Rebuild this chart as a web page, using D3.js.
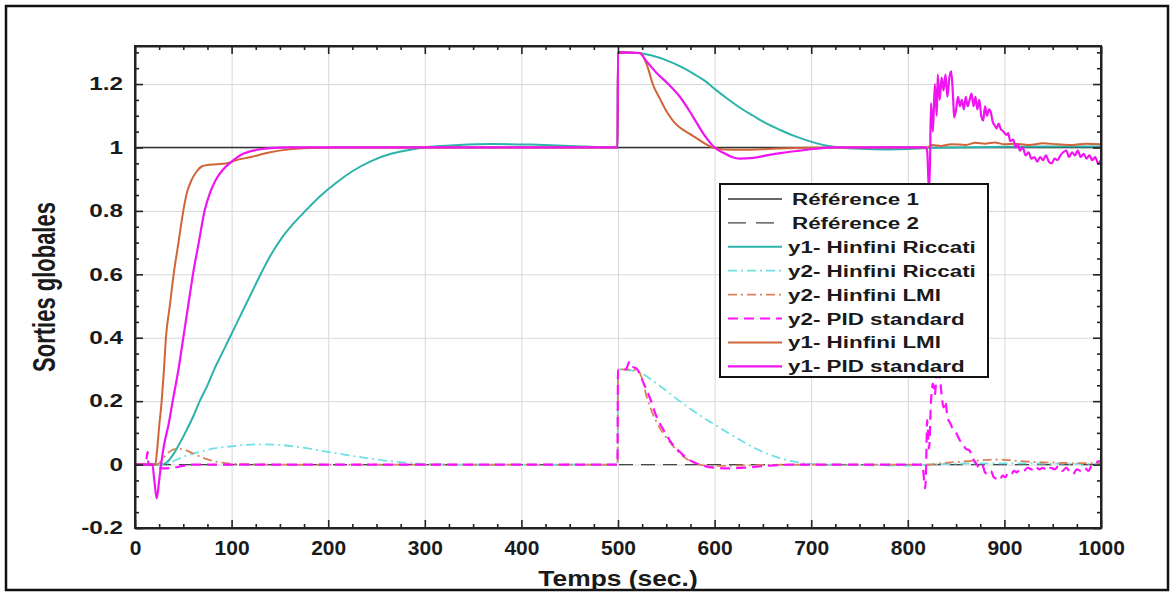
<!DOCTYPE html>
<html>
<head>
<meta charset="utf-8">
<script src="https://cdn.jsdelivr.net/npm/d3@7/dist/d3.min.js"></script>
<style>
  html, body { margin: 0; padding: 0; background: #fff; }
  svg text { font-family: "Liberation Sans", Arial, Helvetica, sans-serif; font-weight: bold; fill: #1a1a1a; }
</style>
</head>
<body>
<svg id="chart" width="1174" height="593"></svg>
<script>
// ---------------- DATA ----------------
const xTicks = [0, 100, 200, 300, 400, 500, 600, 700, 800, 900, 1000];
const xTickLabels = ["0", "100", "200", "300", "400", "500", "600", "700", "800", "900", "1000"];
const yTicks = [-0.2, 0, 0.2, 0.4, 0.6, 0.8, 1, 1.2];
const yTickLabels = ["-0.2", "0", "0.2", "0.4", "0.6", "0.8", "1", "1.2"];
const xLabel = "Temps (sec.)";
const yLabel = "Sorties globales";

const seriesNames = ["Référence 1", "Référence 2", "y1- Hinfini Riccati", "y2- Hinfini Riccati",
                     "y2- Hinfini LMI", "y2- PID standard", "y1- Hinfini LMI", "y1- PID standard"];

// Référence 1
const tRef1 = [0, 1000];
const vRef1 = [1, 1];
// Référence 2
const tRef2 = [0, 1000];
const vRef2 = [0, 0];

// y1 - Hinfini Riccati
const tRicY1 = [0, 28, 32, 38, 45, 52, 60, 67, 75, 82, 90, 98, 106, 114, 122, 130, 140, 152, 164, 178, 193, 208, 225, 245, 265, 285, 305, 335, 370, 410, 450, 499.5,
  500, 520, 535, 551, 565, 578, 590, 602, 614, 626, 640, 654, 668, 681, 694, 706, 718, 730, 750, 780, 800, 820, 850, 900, 950, 1000];
const vRicY1 = [0, 0, 0.005, 0.025, 0.06, 0.1, 0.15, 0.2, 0.25, 0.3, 0.35, 0.4, 0.45, 0.5, 0.55, 0.6, 0.658, 0.715, 0.76, 0.805, 0.85, 0.888, 0.925, 0.958, 0.98, 0.993, 1.002, 1.008, 1.011, 1.009, 1.005, 1.0,
  1.3, 1.298, 1.29, 1.274, 1.255, 1.233, 1.21, 1.18, 1.152, 1.126, 1.1, 1.075, 1.055, 1.038, 1.024, 1.013, 1.005, 1.0, 0.996, 0.994, 0.995, 0.998, 1.0, 1.002, 1.003, 1.003];

// y2 - Hinfini Riccati
const tRicY2 = [0, 28, 35, 45, 55, 67, 80, 98, 115, 130, 150, 170, 190, 210, 230, 250, 270, 290, 310, 340, 499.5,
  500, 520, 540, 564, 580, 598, 615, 633, 650, 668, 685, 700, 720, 800, 820, 850, 900, 950, 1000];
const vRicY2 = [0, 0, 0.005, 0.018, 0.03, 0.04, 0.05, 0.057, 0.062, 0.064, 0.062, 0.055, 0.045, 0.035, 0.025, 0.016, 0.009, 0.004, 0.001, 0, 0,
  0.3, 0.293, 0.255, 0.2, 0.165, 0.13, 0.098, 0.066, 0.04, 0.02, 0.008, 0.002, 0, -0.003, 0, 0.003, 0.004, 0.003, 0.002];

// y2 - Hinfini LMI
const tLmiY2 = [0, 22, 27, 32, 38, 45, 52, 60, 70, 80, 90, 100, 120, 150, 499.5,
  500, 520, 525, 530, 536, 543, 550, 557, 564, 572, 581, 590, 610, 640, 680, 820, 830, 850, 870, 890, 900, 920, 950, 1000];
const vLmiY2 = [0, 0, 0.01, 0.03, 0.045, 0.05, 0.046, 0.035, 0.022, 0.012, 0.006, 0.003, 0.001, 0, 0,
  0.3, 0.298, 0.27, 0.21, 0.16, 0.117, 0.085, 0.058, 0.035, 0.016, 0.003, -0.003, -0.004, -0.002, 0, 0, 0.003, 0.008, 0.012, 0.016, 0.015, 0.01, 0.006, 0.004];

// y2 - PID standard
const tPidY2 = [0, 11, 13, 14, 20, 25, 30, 40, 50, 60, 499.5,
  500, 508, 512, 515, 520, 526, 533, 540, 547, 555, 564, 572, 581, 590, 600, 615, 630, 650, 680, 815,
  818, 819, 820, 822, 824, 826, 828, 830, 833, 835, 837, 839, 841, 844, 847, 850, 854, 857, 860, 864, 867, 871, 874, 877,
  880, 883, 886, 889, 892, 895, 898, 901, 904, 907, 910, 913, 916, 920, 924, 928, 932, 936, 940, 944, 948, 952, 956, 960,
  964, 968, 971, 975, 979, 983, 987, 990, 994, 997, 1000];
const vPidY2 = [0, 0, 0.04, 0, 0, -0.01, -0.012, -0.01, -0.004, 0, 0,
  0.3, 0.3, 0.325, 0.31, 0.3, 0.26, 0.21, 0.15, 0.11, 0.07, 0.04, 0.018, 0.004, -0.005, -0.01, -0.012, -0.01, -0.005, 0, 0,
  -0.075, 0, 0.14, 0.05, 0.2, 0.255, 0.22, 0.285, 0.275, 0.22, 0.18, 0.2, 0.15, 0.13, 0.11, 0.1, 0.076, 0.065, 0.05, 0.044, 0.02, 0.003, -0.01, 0.0,
  -0.025, -0.03, -0.02, -0.04, -0.045, -0.05, -0.035, -0.04, -0.025, -0.03, -0.02, -0.025, -0.015, -0.02, -0.01, -0.015, -0.005, -0.015, -0.01, -0.02, -0.01, -0.015, -0.005, -0.02,
  -0.01, -0.025, -0.03, -0.015, -0.02, -0.01, -0.02, -0.005, 0.0, 0.01, 0.01];

// y1 - Hinfini LMI
const tLmiY1 = [0, 21, 23, 25, 27.6, 30, 32, 36, 40, 45, 50, 54, 59, 64, 69, 75, 85, 95, 105, 120, 140, 160, 190, 230, 499.5,
  500, 523, 530, 536, 544, 551, 558, 564, 573, 582, 590, 598, 610, 630, 660, 700, 760, 820,
  825, 835, 845, 860, 870, 880, 890, 900, 910, 925, 940, 955, 970, 985, 1000];
const vLmiY1 = [0, 0, 0.05, 0.12, 0.2, 0.3, 0.4, 0.5, 0.6, 0.7, 0.8, 0.86, 0.9, 0.925, 0.94, 0.945, 0.947, 0.95, 0.96, 0.97, 0.985, 0.994, 0.999, 1.0, 1.0,
  1.3, 1.298, 1.26, 1.2, 1.15, 1.11, 1.08, 1.063, 1.045, 1.028, 1.012, 1.0, 0.994, 0.993, 0.996, 0.999, 1.0, 1.0,
  1.008, 1.005, 1.01, 1.008, 1.015, 1.012, 1.016, 1.01, 1.012, 1.008, 1.013, 1.01, 1.008, 1.012, 1.01];

// y1 - PID standard
const tPidY1 = [0, 18, 20, 22.5, 25, 27, 30, 35, 39, 45, 50, 55, 60, 66, 72, 78, 84, 91, 98, 105, 112, 125, 140, 160, 499.5,
  500, 522, 530, 540, 552, 564, 574, 581, 588, 594, 600, 610, 618, 626, 640, 654, 670, 688, 705, 723, 760, 818,
  820, 822, 823, 824, 826, 828, 830, 831, 833, 835, 837, 839, 841, 843, 845, 847, 848, 850, 852, 854, 856, 858, 860,
  862, 864, 866, 868, 870, 872, 874, 876, 878, 880, 882, 884, 886, 888, 890, 892, 894, 896, 899, 902, 904, 906, 909,
  912, 914, 916, 919, 922, 925, 928, 931, 934, 937, 940, 943, 946, 949, 952, 955, 958, 961, 964, 967, 970, 973, 976,
  979, 982, 985, 988, 991, 994, 997, 1000];
const vPidY1 = [0, 0, -0.05, -0.107, -0.05, 0, 0.06, 0.13, 0.2, 0.3, 0.4, 0.5, 0.6, 0.7, 0.8, 0.86, 0.9, 0.93, 0.95, 0.967, 0.98, 0.992, 0.998, 1.0, 1.0,
  1.3, 1.298, 1.27, 1.235, 1.2, 1.16, 1.115, 1.08, 1.045, 1.02, 1.0, 0.982, 0.97, 0.965, 0.967, 0.975, 0.983, 0.99, 0.996, 1.0, 1.0, 1.0,
  0.99, 0.86, 0.95, 1.14, 1.05, 1.2, 1.1, 1.23, 1.15, 1.22, 1.18, 1.23, 1.16, 1.22, 1.24, 1.15, 1.095, 1.12, 1.16, 1.13, 1.15, 1.12, 1.16,
  1.13, 1.15, 1.17, 1.13, 1.16, 1.12, 1.15, 1.1, 1.085, 1.13, 1.1, 1.12, 1.11, 1.08, 1.07, 1.06, 1.075, 1.06, 1.05, 1.04, 1.045, 1.02, 1.025,
  1.0, 1.01, 0.99, 1.0, 0.975, 0.985, 0.965, 0.97, 0.955, 0.97, 0.96, 0.975, 0.955, 0.95, 0.965, 0.96, 0.975, 0.985, 0.99, 0.97, 0.985, 0.975, 0.99,
  0.97, 0.98, 0.965, 0.975, 0.96, 0.97, 0.95, 0.96];

// ---------------- CHART ----------------
const W = 1174, H = 593;
const margin = { left: 135, right: 1101, top: 46, bottom: 528 };
const svg = d3.select("#chart");

svg.append("rect").attr("x", 0).attr("y", 0).attr("width", W).attr("height", H).attr("fill", "#fff");
svg.append("rect").attr("x", 6).attr("y", 6).attr("width", 1162).attr("height", 584)
  .attr("fill", "none").attr("stroke", "#111").attr("stroke-width", 2.5);

const x = d3.scaleLinear().domain([0, 1000]).range([margin.left, margin.right]);
const y = d3.scaleLinear().domain([-0.2, 1.32]).range([margin.bottom, margin.top]);
const pw = margin.right - margin.left, ph = margin.bottom - margin.top;

const xMinor = d3.range(0, 1001, 25).filter(v => v % 100 !== 0);
const yMinor = d3.range(-4, 27).map(i => +(i * 0.05).toFixed(2)).filter(v => Math.abs(Math.round(v * 5) - v * 5) > 1e-6);

// grid
svg.append("g").attr("transform", `translate(0,${margin.bottom})`)
  .call(d3.axisBottom(x).tickValues(xTicks).tickSize(-ph).tickFormat(""))
  .call(g => g.select(".domain").remove())
  .call(g => g.selectAll("line").attr("stroke", "#d8d8d8").attr("stroke-width", 1));
svg.append("g").attr("transform", `translate(${margin.left},0)`)
  .call(d3.axisLeft(y).tickValues(yTicks).tickSize(-pw).tickFormat(""))
  .call(g => g.select(".domain").remove())
  .call(g => g.selectAll("line").attr("stroke", "#d8d8d8").attr("stroke-width", 1));

// lines
svg.append("clipPath").attr("id", "clip").append("rect")
  .attr("x", margin.left).attr("y", margin.top).attr("width", pw).attr("height", ph);

const line = d3.line().x(d => x(d[0])).y(d => y(d[1])).curve(d3.curveMonotoneX);
const zip = (t, v) => t.map((ti, i) => [ti, v[i]]);

const styles = [
  { t: tRef1, v: vRef1, color: "#333333", w: 1.6, dash: null },
  { t: tRef2, v: vRef2, color: "#444444", w: 1.3, dash: "14,8" },
  { t: tRicY1, v: vRicY1, color: "#2bb3ab", w: 2, dash: null },
  { t: tRicY2, v: vRicY2, color: "#6fe0e4", w: 1.8, dash: "9,4,2,4" },
  { t: tLmiY2, v: vLmiY2, color: "#d9835a", w: 1.8, dash: "9,4,2,4" },
  { t: tPidY2, v: vPidY2, color: "#ff10ff", w: 2.2, dash: "10,6" },
  { t: tLmiY1, v: vLmiY1, color: "#d0653a", w: 2, dash: null },
  { t: tPidY1, v: vPidY1, color: "#f014f0", w: 2.2, dash: null }
];

const gLines = svg.append("g").attr("clip-path", "url(#clip)");
styles.forEach(s => {
  gLines.append("path").datum(zip(s.t, s.v))
    .attr("fill", "none").attr("stroke", s.color).attr("stroke-width", s.w)
    .attr("stroke-dasharray", s.dash).attr("stroke-linejoin", "round")
    .attr("d", line);
});

// axes box + ticks (inward)
const axisColor = "#222";
function styleAxis(g) {
  g.select(".domain").attr("stroke", axisColor).attr("stroke-width", 2);
  g.selectAll(".tick line").attr("stroke", axisColor).attr("stroke-width", 1.6);
}
// bottom
const gB = svg.append("g").attr("transform", `translate(0,${margin.bottom})`)
  .call(d3.axisBottom(x).tickValues(xTicks).tickSizeInner(-8).tickSizeOuter(0).tickPadding(13)
    .tickFormat((d, i) => xTickLabels[i]))
  .call(styleAxis);
gB.selectAll("text").attr("font-size", 20).attr("transform", "scale(1.05,1)");
svg.append("g").attr("transform", `translate(0,${margin.bottom})`)
  .call(d3.axisBottom(x).tickValues(xMinor).tickSizeInner(-4).tickSizeOuter(0).tickFormat(""))
  .call(styleAxis).call(g => g.select(".domain").remove());
// top
svg.append("g").attr("transform", `translate(0,${margin.top})`)
  .call(d3.axisTop(x).tickValues(xTicks).tickSizeInner(-8).tickSizeOuter(0).tickFormat(""))
  .call(styleAxis);
svg.append("g").attr("transform", `translate(0,${margin.top})`)
  .call(d3.axisTop(x).tickValues(xMinor).tickSizeInner(-4).tickSizeOuter(0).tickFormat(""))
  .call(styleAxis).call(g => g.select(".domain").remove());
// left
const gL = svg.append("g").attr("transform", `translate(${margin.left},0)`)
  .call(d3.axisLeft(y).tickValues(yTicks).tickSizeInner(-8).tickSizeOuter(0).tickPadding(12)
    .tickFormat((d, i) => yTickLabels[i]))
  .call(styleAxis);
gL.selectAll("text").attr("font-size", 18).attr("transform", "scale(1.35,1)")
  .attr("x", -12 / 1.35);
svg.append("g").attr("transform", `translate(${margin.left},0)`)
  .call(d3.axisLeft(y).tickValues(yMinor).tickSizeInner(-4).tickSizeOuter(0).tickFormat(""))
  .call(styleAxis).call(g => g.select(".domain").remove());
// right
svg.append("g").attr("transform", `translate(${margin.right},0)`)
  .call(d3.axisRight(y).tickValues(yTicks).tickSizeInner(-8).tickSizeOuter(0).tickFormat(""))
  .call(styleAxis);
svg.append("g").attr("transform", `translate(${margin.right},0)`)
  .call(d3.axisRight(y).tickValues(yMinor).tickSizeInner(-4).tickSizeOuter(0).tickFormat(""))
  .call(styleAxis).call(g => g.select(".domain").remove());
svg.append("rect").attr("x", margin.left).attr("y", margin.top).attr("width", pw).attr("height", ph)
  .attr("fill", "none").attr("stroke", axisColor).attr("stroke-width", 2);

// axis labels
svg.append("text").attr("transform", `translate(${(margin.left + margin.right) / 2},586) scale(1.2,1)`)
  .attr("text-anchor", "middle").attr("font-size", 22).text(xLabel);
svg.append("text").attr("transform", `translate(55,${(margin.top + margin.bottom) / 2}) rotate(-90) scale(1,1.4)`)
  .attr("text-anchor", "middle").attr("font-size", 22).text(yLabel);

// legend
const lg = svg.append("g");
lg.append("rect").attr("x", 720).attr("y", 184).attr("width", 268).attr("height", 193)
  .attr("fill", "#fff").attr("stroke", "#111").attr("stroke-width", 2);
seriesNames.forEach((name, i) => {
  const yy = 199 + i * 23.9;
  const s = styles[i];
  lg.append("line").attr("x1", 728).attr("x2", 782).attr("y1", yy).attr("y2", yy)
    .attr("stroke", s.color).attr("stroke-width", s.w)
    .attr("stroke-dasharray", i === 1 ? "18,10" : (s.dash));
  lg.append("text").attr("transform", `translate(${i < 2 ? 792 : 788},${yy + 6}) scale(1.4,1)`)
    .attr("font-size", 16).text(name);
});
</script>
</body>
</html>
